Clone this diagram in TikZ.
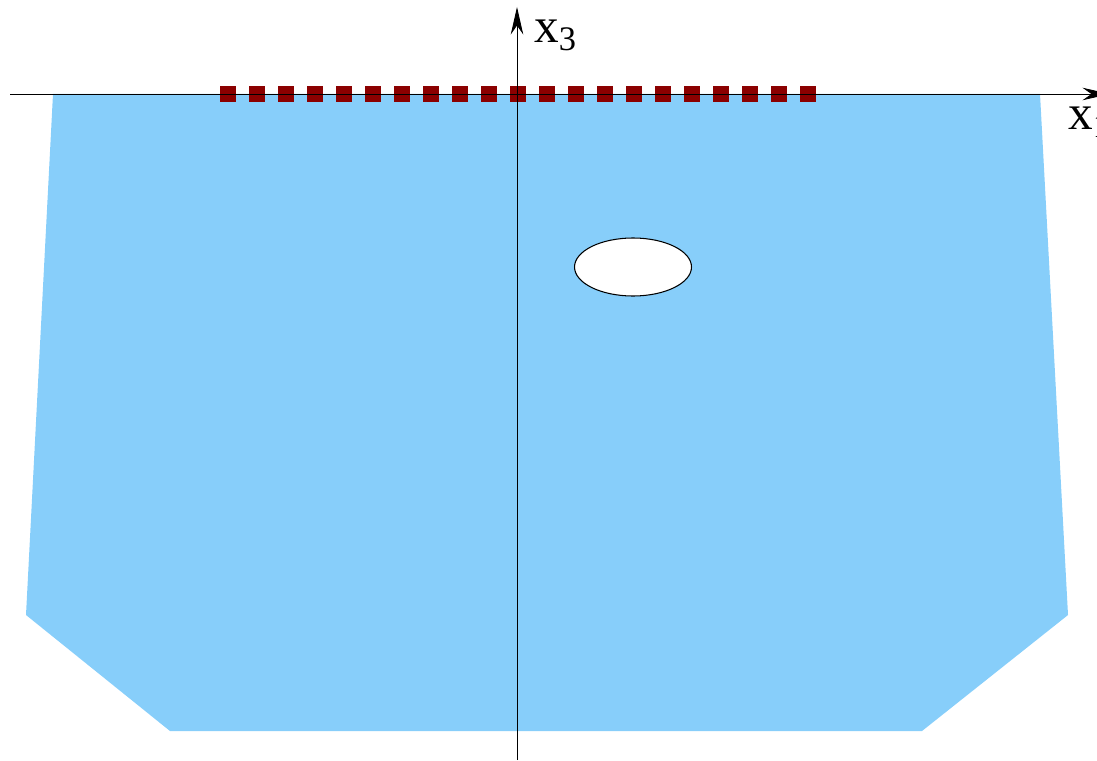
\documentclass[tikz,border=0pt]{standalone}
\usepackage{fontspec}
\setmainfont{Liberation Serif}
\usetikzlibrary{arrows.meta, shapes.geometric}
\usepackage{xcolor}
\definecolor{SoilBlue}{HTML}{87CEFA}
\definecolor{SensorRed}{HTML}{8B0000}
\tikzset{
    % region and markers
    soil/.style={
        fill=SoilBlue,
        draw=none
    },
    cavity/.style={
        ellipse,
        draw=black,
        fill=white,
        line width=0.6pt,
        minimum width=2.34cm,
        minimum height=1.16cm,
        inner sep=0pt
    },
    sensor/.style={
        rectangle,
        fill=SensorRed,
        draw=none,
        minimum width=0.31cm,
        minimum height=0.32cm,
        inner sep=0pt
    },
    % axes
    axis/.style={
        -{Stealth[length=0.55cm, width=0.25cm]},
        line width=0.5pt,
        draw=black
    },
    axislabel/.style={
        font=\fontsize{28}{30}\selectfont,
        anchor=base west,
        inner sep=0pt
    }
}
\begin{document}
\begin{tikzpicture}[x=0.02cm, y=-0.02cm]
    \useasboundingbox (0,0) rectangle (1097,760);

    % the soil region
    \fill[soil] (53,94) -- (1040,94) -- (1068,615) -- (922,731)
        -- (170,731) -- (26,615) -- cycle;

    \node[cavity] (hole) at (633,267) {};

    % receivers on the surface
    \foreach \i in {0,...,20} {
        \node[sensor] (s\i) at (228+29*\i,94) {};
    }

    % axes
    \coordinate (x1start) at (10,94);
    \coordinate (x1end) at (1110,94);
    \coordinate (x3start) at (517,760);
    \coordinate (x3end) at (517,7);
    \draw[axis] (x1start) -- (x1end);
    \draw[axis] (x3start) -- (x3end);
    \node[axislabel] (x3label) at (534,43) {x\textsubscript{3}};
    \node[axislabel] (x1label) at (1068,130) {x\textsubscript{1}};
\end{tikzpicture}
\end{document}
